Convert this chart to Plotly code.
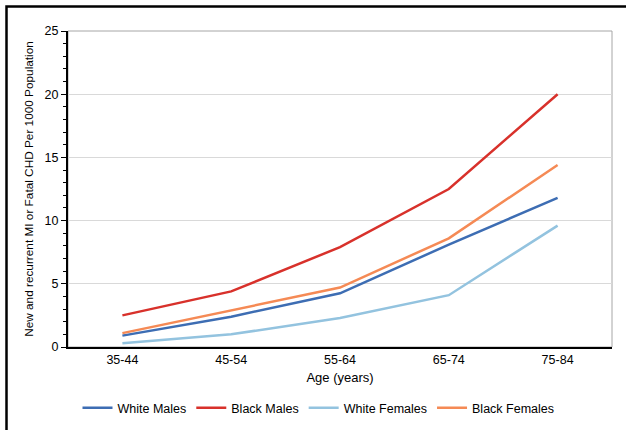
import plotly.graph_objects as go

ages = ["35-44", "45-54", "55-64", "65-74", "75-84"]
white_males = [0.9, 2.4, 4.25, 8.1, 11.8]
black_males = [2.5, 4.4, 7.9, 12.5, 20.0]
white_females = [0.3, 1.0, 2.3, 4.1, 9.6]
black_females = [1.1, 2.9, 4.7, 8.6, 14.4]

series = [
    ("White Males", white_males, "#3D6DB3"),
    ("Black Males", black_males, "#D8312B"),
    ("White Females", white_females, "#93C3DF"),
    ("Black Females", black_females, "#F58A55"),
]

fig = go.Figure()
for name, vals, col in series:
    fig.add_trace(go.Scatter(x=ages, y=vals, name=name, mode="lines",
                             line=dict(color=col, width=2.5)))

W, H = 626, 430
L, R, T, B = 68, 612, 31, 347
pw, ph = R - L, B - T

def px(x):
    return (x - L) / pw

def py(y):
    return (B - y) / ph

fig.update_layout(
    width=W, height=H,
    margin=dict(l=L, r=W - R, t=T, b=H - B, autoexpand=False),
    paper_bgcolor="white", plot_bgcolor="white",
    font=dict(family="Liberation Sans, Arial, sans-serif", size=12, color="#000000"),
    showlegend=True,
    legend=dict(orientation="h", x=px(318.5), xanchor="center", y=py(408), yanchor="middle",
                font=dict(size=12.5), itemwidth=30, tracegroupgap=0,
                bgcolor="rgba(0,0,0,0)"),
    xaxis=dict(
        type="category", showgrid=False, zeroline=False, automargin=False,
        showline=True, linecolor="#000000", linewidth=2,
        ticks="", tickfont=dict(size=12.5),
        title=dict(text="Age (years)", font=dict(size=13), standoff=7),
        range=[-0.5, 4.5],
    ),
    yaxis=dict(
        range=[0, 25], dtick=5, tick0=0, showgrid=True, gridcolor="#D9D9D9", gridwidth=1,
        zeroline=False, showline=True, linecolor="#000000", linewidth=2, automargin=False,
        ticks="outside", ticklen=5, tickcolor="#000000", tickwidth=1,
        tickfont=dict(size=12.5),
        minor=dict(dtick=1, ticks="outside", ticklen=3, tickcolor="#000000", showgrid=False),
        title=dict(text="New and recurrent MI or Fatal CHD Per 1000 Population",
                   font=dict(size=11.8), standoff=8),
    ),
    shapes=[
        dict(type="rect", xref="paper", yref="paper", x0=0, x1=1, y0=0, y1=1,
             line=dict(color="#A6A6A6", width=1), layer="below"),
        dict(type="rect", xref="paper", yref="paper",
             x0=px(6.5), x1=px(700), y0=py(700), y1=py(6.5),
             line=dict(color="#000000", width=2.5), layer="above"),
    ],
)

fig.write_html("out.html", config={"displayModeBar": False},
               post_script="document.body.style.margin='0';document.body.style.padding='0';")
